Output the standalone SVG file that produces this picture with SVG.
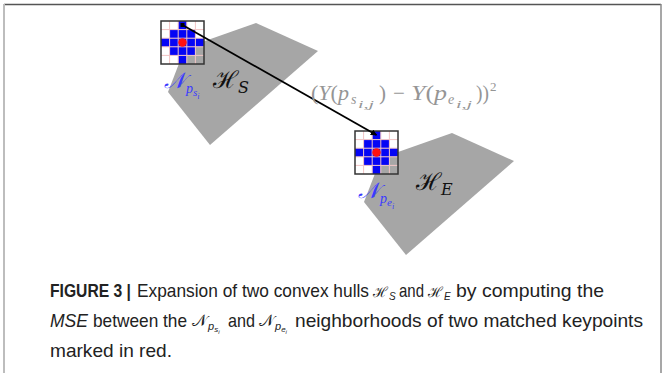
<svg xmlns="http://www.w3.org/2000/svg" xmlns:xlink="http://www.w3.org/1999/xlink" width="665" height="373" viewBox="0 0 665 373">
<style>
.hull{fill:#a6a6a6;stroke:none}
.cw{fill:#ffffff}
.cb{fill:#0505f5}
.cg{fill:#a6a6a6}
.gl{stroke:#f2c4c4;stroke-width:1;fill:none}
.gb{stroke:#333333;stroke-width:1.5;fill:none}
.lbl{font-family:"Liberation Serif","DejaVu Serif",serif;font-style:italic;fill:#3a3aff}
.hl{font-family:"DejaVu Serif","Liberation Serif",serif;fill:#111}
.fm{font-family:"Liberation Serif","DejaVu Serif",serif;fill:#959595}
.it{font-style:italic}
.cap{font-family:"Liberation Sans","Arial",sans-serif;font-size:19px;fill:#222}
.capb{font-weight:bold}
.capm{font-family:"DejaVu Serif","Liberation Serif",serif}
</style>
<defs>
<marker id="arr" viewBox="0 0 10 10" refX="9" refY="5" markerWidth="3.5" markerHeight="3.5" orient="auto" markerUnits="strokeWidth">
<path d="M0,0 L10,5 L0,10 z" fill="#000"/>
</marker>
<g id="grid">
<rect x="0" y="0" width="43" height="43" class="cw"/>
<rect x="17.2" y="0" width="8.6" height="8.6" class="cb"/>
<rect x="8.6" y="8.6" width="25.8" height="8.6" class="cb"/>
<rect x="0" y="17.2" width="43" height="8.6" class="cb"/>
<rect x="8.6" y="25.8" width="25.8" height="8.6" class="cb"/>
<rect x="17.2" y="34.4" width="8.6" height="8.6" class="cb"/>
<rect x="34.4" y="25.8" width="8.6" height="8.6" class="cg"/>
<rect x="25.8" y="34.4" width="17.2" height="8.6" class="cg"/>
<path class="gl" d="M8.6,0V43M17.2,0V43M25.8,0V43M34.4,0V43M0,8.6H43M0,17.2H43M0,25.8H43M0,34.4H43"/>
<circle cx="21.5" cy="21.5" r="4.2" fill="#ff1010"/>
<rect x="0" y="0" width="43" height="43" class="gb"/>
</g>
</defs>
<rect width="665" height="373" fill="#ffffff"/>
<g id="frame">
<line x1="4" y1="4.5" x2="661" y2="4.5" stroke="#555" stroke-width="1.5"/>
<line x1="4" y1="4" x2="4" y2="373" stroke="#bdbdbd" stroke-width="2"/>
<line x1="661" y1="4" x2="661" y2="373" stroke="#8a8a8a" stroke-width="1.5"/>
</g>
<g id="hullS"><polygon class="hull" points="185,48 256,23 318,51 210,145 168,92"/></g>
<g id="hullE"><polygon class="hull" points="381,158 452,133 514,161 406,255 364,202"/></g>
<g id="gridS"><use xlink:href="#grid" href="#grid" x="161" y="21"/></g>
<g id="gridE"><use xlink:href="#grid" href="#grid" x="355" y="131"/></g>
<g id="connectors">
<rect x="180.5" y="23" width="4" height="4" fill="#000"/>
<line x1="182.5" y1="25" x2="376.5" y2="135" stroke="#000" stroke-width="1.8" marker-end="url(#arr)"/>
</g>
<g id="labelNs">
<text class="lbl" x="164" y="88" font-size="22">𝒩<tspan font-size="14" dy="5" dx="1">p</tspan><tspan font-size="11" dy="3">s</tspan><tspan font-size="8" dy="3">i</tspan></text>
</g>
<g id="labelHS">
<text class="hl" x="213" y="88" font-size="24">ℋ<tspan class="it" font-size="16" dy="5">S</tspan></text>
</g>
<g id="labelNe">
<text class="lbl" x="358" y="198" font-size="22">𝒩<tspan font-size="14" dy="5" dx="1">p</tspan><tspan font-size="11" dy="3">e</tspan><tspan font-size="8" dy="3">i</tspan></text>
</g>
<g id="labelHE">
<text class="hl" x="416" y="190" font-size="24">ℋ<tspan class="it" font-size="16" dy="5">E</tspan></text>
</g>
<g id="formula">
<text class="fm" x="311" y="100" font-size="21" textLength="38" lengthAdjust="spacingAndGlyphs">(<tspan class="it">Y</tspan>(<tspan class="it">p</tspan></text>
<text class="fm it" x="351" y="104" font-size="14">s</text>
<text class="fm it" x="358" y="108" font-size="11" textLength="16" lengthAdjust="spacingAndGlyphs">i,j</text>
<text class="fm" x="379" y="100" font-size="21">)</text>
<text class="fm" x="393" y="100" font-size="21">−</text>
<text class="fm" x="411" y="100" font-size="21" textLength="36" lengthAdjust="spacingAndGlyphs"><tspan class="it">Y</tspan>(<tspan class="it">p</tspan></text>
<text class="fm it" x="448" y="104" font-size="14">e</text>
<text class="fm it" x="456" y="108" font-size="11" textLength="16" lengthAdjust="spacingAndGlyphs">i,j</text>
<text class="fm" x="476" y="100" font-size="21" textLength="13" lengthAdjust="spacingAndGlyphs">))</text>
<text class="fm" x="490" y="91" font-size="13">2</text>
</g>
<g id="caption">
<text class="cap capb" x="50" y="297" textLength="81" lengthAdjust="spacingAndGlyphs">FIGURE 3 |</text>
<text class="cap" x="137" y="297" textLength="232" lengthAdjust="spacingAndGlyphs">Expansion of two convex hulls</text>
<text class="cap" x="373" y="297"><tspan class="capm" font-size="14">ℋ</tspan><tspan class="it" font-size="10" dy="3" dx="1">S</tspan></text>
<text class="cap" x="399" y="297" textLength="25" lengthAdjust="spacingAndGlyphs">and</text>
<text class="cap" x="428" y="297"><tspan class="capm" font-size="14">ℋ</tspan><tspan class="it" font-size="10" dy="3" dx="1">E</tspan></text>
<text class="cap" x="456" y="297" textLength="148" lengthAdjust="spacingAndGlyphs">by computing the</text>
<text class="cap it" x="50" y="327" textLength="38" lengthAdjust="spacingAndGlyphs">MSE</text>
<text class="cap" x="93" y="327" textLength="94" lengthAdjust="spacingAndGlyphs">between the</text>
<text class="cap" x="192" y="326"><tspan class="capm" font-size="16">𝒩</tspan><tspan class="it" font-size="11" dy="4" dx="1">p</tspan><tspan class="it" font-size="8" dy="2">s</tspan><tspan class="it" font-size="6" dy="2">i</tspan></text>
<text class="cap" x="228" y="327" textLength="27" lengthAdjust="spacingAndGlyphs">and</text>
<text class="cap" x="259" y="326"><tspan class="capm" font-size="16">𝒩</tspan><tspan class="it" font-size="11" dy="4" dx="1">p</tspan><tspan class="it" font-size="8" dy="2">e</tspan><tspan class="it" font-size="6" dy="2">i</tspan></text>
<text class="cap" x="295" y="327" textLength="348" lengthAdjust="spacingAndGlyphs">neighborhoods of two matched keypoints</text>
<text class="cap" x="50" y="357" textLength="122" lengthAdjust="spacingAndGlyphs">marked in red.</text>
</g>
</svg>
